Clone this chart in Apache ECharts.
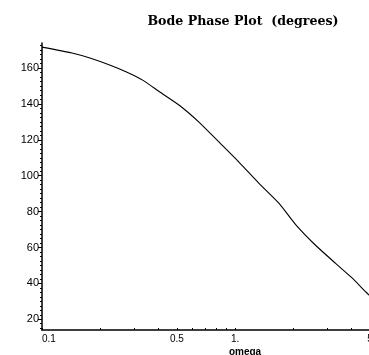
<!DOCTYPE html>
<html><head><meta charset="utf-8">
<script src="https://cdn.jsdelivr.net/npm/echarts@6/dist/echarts.min.js"></script>
<style>html,body{margin:0;padding:0;background:#fff}#c{width:369px;height:355px}</style>
</head><body><div id="c"></div>
<script>
const omega = [0.1, 0.143, 0.177, 0.224, 0.274, 0.332, 0.406, 0.514, 0.652, 0.827, 1.05, 1.33, 1.69, 2.06, 2.62, 3.32, 4.01, 4.79, 5];
const phase = [171.7, 168.4, 165.6, 161.7, 157.8, 153.3, 146.8, 139.3, 129.8, 118.7, 107.5, 95.8, 84.6, 72.8, 61.1, 51.1, 43.3, 34.9, 33.0];
const xLabels = [0.1, 0.5, 1, 5];
const xTicks = [0.1, 0.2, 0.3, 0.4, 0.5, 0.6, 0.7, 0.8, 0.9, 1, 2, 3, 4, 5];
const yLabels = [20, 40, 60, 80, 100, 120, 140, 160];
const yMinor = [15, 17.5, 20, 22.5, 25, 27.5, 30, 32.5, 35, 37.5, 40, 42.5, 45, 47.5, 50, 52.5, 55, 57.5, 60, 62.5, 65, 67.5, 70, 72.5, 75, 77.5, 80, 82.5, 85, 87.5, 90, 92.5, 95, 97.5, 100, 102.5, 105, 107.5, 110, 112.5, 115, 117.5, 120, 122.5, 125, 127.5, 130, 132.5, 135, 137.5, 140, 142.5, 145, 147.5, 150, 152.5, 155, 157.5, 160, 162.5, 165, 167.5, 170, 172.5];

const chart = echarts.init(document.getElementById('c'), null, {renderer: 'canvas'});
chart.setOption({
  animation: false,
  backgroundColor: '#fff',
  title: [
    {text: 'Bode Phase Plot  (degrees)', left: 238, top: 10, textAlign: 'center',
     textStyle: {fontFamily: 'DejaVu Serif', fontWeight: 'bold', fontSize: 12.6, color: '#000'}},
    {text: 'omega', left: 240, top: 342, textAlign: 'center',
     textStyle: {fontFamily: 'Liberation Sans', fontWeight: 'bold', fontSize: 10, color: '#000'}}
  ],
  grid: {left: 42, right: -1, top: 43, bottom: 25, containLabel: false, outerBoundsMode: 'none'},
  xAxis: {
    type: 'log', logBase: 10, min: 0.1, max: 5,
    axisLine: {show: true, lineStyle: {color: '#000', width: 1.5}},
    axisTick: {show: true, inside: true, length: 2, customValues: xTicks, lineStyle: {color: '#000'}},
    axisLabel: {show: true, customValues: xLabels, alignMinLabel: 'left', margin: 4, hideOverlap: false,
      fontFamily: 'Liberation Sans', fontSize: 10, color: '#000',
      formatter: v => (v === 1 ? '1.' : String(v))},
    splitLine: {show: false}, minorTick: {show: false}
  },
  yAxis: [
    {
      type: 'value', min: 14, max: 174,
      axisLine: {show: true, lineStyle: {color: '#000', width: 1.5}},
      axisTick: {show: true, length: 4, customValues: yLabels, lineStyle: {color: '#000'}},
      axisLabel: {show: true, customValues: yLabels, margin: 3,
        fontFamily: 'Liberation Sans', fontSize: 11, color: '#000'},
      splitLine: {show: false}
    },
    {
      type: 'value', min: 14, max: 174, position: 'left',
      axisLine: {show: false},
      axisTick: {show: true, length: 2, customValues: yMinor, lineStyle: {color: '#000'}},
      axisLabel: {show: false},
      splitLine: {show: false}
    }
  ],
  series: [{
    type: 'line', data: omega.map((w, i) => [w, phase[i]]),
    showSymbol: false, smooth: 0.2, clip: true,
    lineStyle: {color: '#000', width: 1.1}
  }]
});
</script></body></html>
